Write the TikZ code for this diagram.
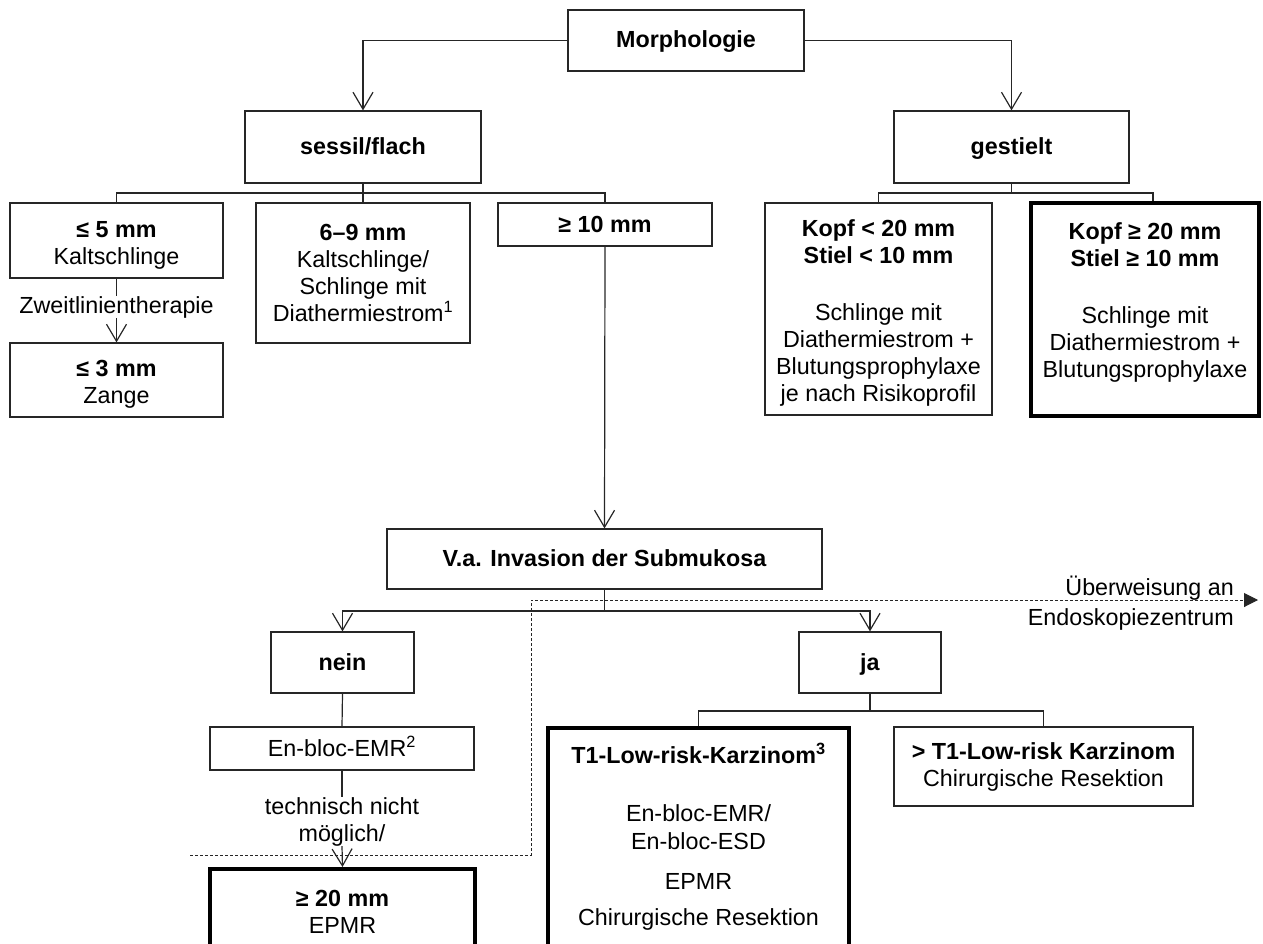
\documentclass[tikz,border=0pt]{standalone}
\usepackage{fontspec}
\setmainfont{Liberation Sans}
\usetikzlibrary{arrows.meta}
\newcommand\myTop{\rule{0pt}{25pt}}
\newcommand\myOne{\rule[-5pt]{0pt}{25pt}}
\begin{document}
\begin{tikzpicture}[x=1pt,y=-1pt,
  every node/.style={font=\fontsize{23.3}{27}\selectfont},
  box/.style={draw=black!85, line width=1.2pt, inner sep=0pt, align=center},
  thickbox/.style={draw=black, line width=4pt, inner sep=0pt, align=center},
  conn/.style={draw=black!85, line width=1.2pt},
  arr/.style={conn, -{Straight Barb[length=17pt,width=20pt]}},
  lbl/.style={inner sep=0pt, align=center},
  dashconn/.style={draw=black!85, line width=1pt, dash pattern=on 3pt off 2pt, -{Triangle[length=14pt,width=14pt]}}
]
\useasboundingbox (0,0) rectangle (1263,944);

% boxes
\node[box, minimum width=236pt, minimum height=61pt] (morph) at (686,40.5) {\myOne\textbf{Morphologie}};
\node[box, minimum width=236pt, minimum height=72pt] (sessil) at (363,147) {\myOne\textbf{sessil/flach}};
\node[box, minimum width=235pt, minimum height=72pt] (gest) at (1011.5,147) {\myOne\textbf{gestielt}};
\node[box, minimum width=213pt, minimum height=75pt] (le5) at (116.5,240.5) {\myTop\textbf{≤ 5 mm}\\Kaltschlinge};
\node[box, minimum width=214pt, minimum height=140pt] (six) at (363,273) {\textbf{6–9 mm}\\Kaltschlinge/\\Schlinge mit\\Diathermiestrom\textsuperscript{1}};
\node[box, minimum width=214pt, minimum height=43pt] (ge10) at (605,224.5) {\myOne\textbf{≥ 10 mm}};
\node[box, minimum width=213pt, minimum height=74pt] (le3) at (116.5,380) {\myTop\textbf{≤ 3 mm}\\Zange};
\node[box, minimum width=227pt, minimum height=212pt] (kopf1) at (878.5,309) {\myTop\textbf{Kopf < 20 mm}\\\textbf{Stiel < 10 mm}\\[30pt]Schlinge mit\\Diathermiestrom +\\Blutungsprophylaxe\\je nach Risikoprofil};
\node[thickbox, minimum width=228pt, minimum height=213pt] (kopf2) at (1145,309.5) {\myTop\textbf{Kopf ≥ 20 mm}\\\textbf{Stiel ≥ 10 mm}\\[30pt]Schlinge mit\\Diathermiestrom +\\Blutungsprophylaxe\\\mbox{}};
\node[box, minimum width=435pt, minimum height=60pt] (va) at (604.5,559) {\myOne\textbf{V.a. Invasion der Submukosa}};
\node[box, minimum width=143pt, minimum height=61pt] (nein) at (342.5,662.5) {\myOne\textbf{nein}};
\node[box, minimum width=142pt, minimum height=61pt] (ja) at (870,662.5) {\myOne\textbf{ja}};
\node[box, minimum width=264pt, minimum height=43pt] (enbloc) at (342,748.5) {\myOne En-bloc-EMR\textsuperscript{2}};
\node[thickbox, minimum width=265pt, minimum height=85pt] (ge20) at (342.5,911.5) {\textbf{≥ 20 mm}\\EPMR};
\node[thickbox, minimum width=301pt, minimum height=219pt] (t1) at (698.5,837) {\textbf{T1-Low-risk-Karzinom\textsuperscript{3}}\\[31pt]En-bloc-EMR/\\[1pt]En-bloc-ESD\\[13pt]EPMR\\[9pt]Chirurgische Resektion};
\node[box, minimum width=299pt, minimum height=79pt] (gt1) at (1043.5,766.5) {\textbf{> T1-Low-risk Karzinom}\\Chirurgische Resektion};

% labels
\node[lbl] (zw) at (116.5,307) {Zweitlinientherapie};
\node[lbl] (tech) at (342,821.5) {technisch nicht\\möglich/};
\node[lbl, align=right, anchor=east] (ueb) at (1234,603) {Überweisung an\\[3pt]Endoskopiezentrum};

% coordinates
\coordinate (sb) at (363,193);
\coordinate (gb) at (1011.5,193);
\coordinate (vb) at (604.5,611);
\coordinate (jb) at (870,711);
\coordinate (k2t) at ([xshift=8pt]kopf2.north);
\coordinate (d0) at (190,855);
\coordinate (d1) at (531,855);
\coordinate (d2) at (531,600);
\coordinate (d3) at (1258,600);

% connectors
\draw[arr] (morph.west) -| (sessil.north);
\draw[arr] (morph.east) -| (gest.north);
\draw[conn] (sessil.south) -- (six.north);
\draw[conn] (le5.north) |- (sb) -| (ge10.north);
\draw[arr] (ge10.south) -- (va.north);
\draw[conn] (le5.south) -- (zw.north);
\draw[arr] (zw.south) -- (le3.north);
\draw[conn] (gest.south) -- (gb);
\draw[conn] (kopf1.north) |- (gb) -| (k2t);
\draw[conn] (va.south) -- (vb);
\draw[arr] (vb) -| (nein.north);
\draw[arr] (vb) -| (ja.north);
\draw[conn] (nein.south) -- (enbloc.north);
\draw[conn] (enbloc.south) -- (tech.north);
\draw[arr] (tech.south) -- (ge20.north);
\draw[conn] (ja.south) -- (jb);
\draw[conn] (t1.north) |- (jb) -| (gt1.north);
\draw[dashconn] (d0) -- (d1) -- (d2) -- (d3);
\end{tikzpicture}
\end{document}
